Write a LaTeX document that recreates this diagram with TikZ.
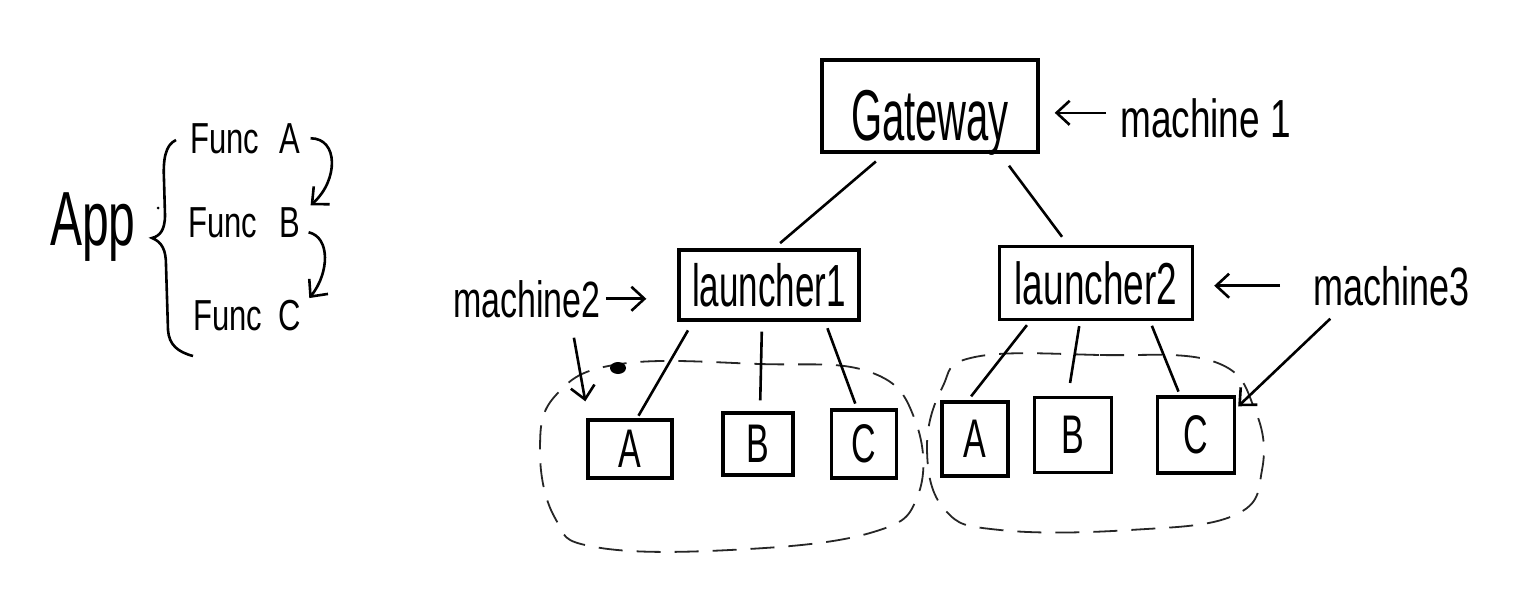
\documentclass[tikz,border=0pt]{standalone}
\usepackage{fontspec}
\setmainfont{Liberation Sans}
\usetikzlibrary{arrows.meta,calc}
\newcommand{\hw}[2]{\scalebox{1}[#1]{#2}}
\begin{document}
\begin{tikzpicture}[x=1pt,y=-1pt,
  box/.style={draw, line width=3.4pt, inner sep=0pt},
  letter/.style={font=\fontsize{34}{38}\selectfont},
  link/.style={line width=2.6pt},
  arr/.style={line width=2.6pt, -{Straight Barb[length=13pt,width=24pt,line width=2.6pt]}},
  blob/.style={line width=1.8pt, dash pattern=on 24pt off 14pt, black!85},
  lbl/.style={inner sep=0pt, anchor=base west},
]
\fill[white] (0,0) rectangle (1538,610);
\useasboundingbox (0,0) rectangle (1538,610);

% dashed machine groups
\draw[blob] plot[smooth cycle, tension=0.7] coordinates {(620,364) (760,364) (870,372) (915,420) (918,495) (870,533) (730,550) (595,547) (555,518) (540,450) (556,395)};
\draw[blob] plot[smooth cycle, tension=0.7] coordinates {(975,357) (1100,355) (1215,362) (1255,410) (1262,470) (1235,515) (1130,530) (1000,530) (945,510) (927,450) (942,388)};
\fill (618,368) ellipse (8pt and 6pt);
\fill (158,208) circle (1.5pt);

% left: App
\node[lbl, font=\fontsize{48}{52}\selectfont] (app) at (50,245) {\hw{1.6}{App}};
\node[lbl, font=\fontsize{31}{34}\selectfont] (fa) at (190,153) {\hw{1.4}{Func\hspace{12pt} A}};
\node[lbl, font=\fontsize{31}{34}\selectfont] (fb) at (188,237) {\hw{1.4}{Func\hspace{14pt} B}};
\node[lbl, font=\fontsize{31}{34}\selectfont] (fc) at (193,330) {\hw{1.4}{Func\hspace{8pt} C}};
\draw[line width=2.6pt] (176,140) .. controls (165,145) and (163,160) .. (164,180) -- (165,215)
  .. controls (165,230) and (160,236) .. (152,238)
  .. controls (162,242) and (166,250) .. (166,265) -- (168,330)
  .. controls (169,345) and (178,352) .. (193,356);
\draw[arr] ([xshift=10pt]fa.east) .. controls +(28,0) and +(28,-25) .. ([xshift=10pt,yshift=17pt]fb.east);
\draw[arr] ([xshift=8pt,yshift=-10pt]fb.east) .. controls +(22,5) and +(20,-25) .. ([xshift=8pt,yshift=17pt]fc.east);

% tree
\node[box, minimum width=216pt, text height=80pt, text depth=12pt, anchor=base,
      font=\fontsize{40}{44}\selectfont] (gw) at (930,140) {\hw{1.8}{Gateway}};
\node[box, minimum width=180pt, minimum height=70pt, font=\fontsize{35}{40}\selectfont] (l1) at (769,285) {\hw{1.7}{launcher1}};
\node[box, minimum width=193pt, minimum height=73pt, font=\fontsize{37}{40}\selectfont] (l2) at (1096,283) {\hw{1.6}{launcher2}};

\node[box, letter, minimum width=84pt, minimum height=58pt] (la) at (630,449) {\hw{1.6}{A}};
\node[box, letter, minimum width=70pt, minimum height=62pt] (lb) at (758,444) {\hw{1.6}{B}};
\node[box, letter, minimum width=65pt, minimum height=68pt] (lc) at (864,444) {\hw{1.6}{C}};
\node[box, letter, minimum width=66pt, minimum height=74pt] (ra) at (975,439) {\hw{1.6}{A}};
\node[box, letter, minimum width=77pt, minimum height=75pt] (rb) at (1073,435) {\hw{1.6}{B}};
\node[box, letter, minimum width=77pt, minimum height=76pt] (rc) at (1196,435) {\hw{1.6}{C}};

\draw[link, shorten <=12pt, shorten >=8pt] ([xshift=-45pt]gw.south) -- ([xshift=5pt]l1.north);
\draw[link, shorten <=15pt, shorten >=10pt] ([xshift=70pt]gw.south) -- ([xshift=-28pt]l2.north);
\draw[link, shorten <=10pt, shorten >=3pt] ([xshift=-76pt]l1.south) -- ([xshift=7pt]la.north);
\draw[link, shorten <=10pt, shorten >=11pt] ([xshift=-7pt]l1.south) -- ([xshift=2pt]lb.north);
\draw[link, shorten <=7pt, shorten >=5pt] ([xshift=56pt]l1.south) -- ([xshift=-7pt]lc.north);
\draw[link, shorten <=5pt, shorten >=5pt] ([xshift=-66pt]l2.south) -- ([xshift=-7pt]ra.north);
\draw[link, shorten <=5pt, shorten >=13pt] ([xshift=-16pt]l2.south) -- ([xshift=-5pt]rb.north);
\draw[link, shorten <=5pt, shorten >=4pt] ([xshift=54pt]l2.south) -- ([xshift=-16pt]rc.north);

% machine labels
\node[lbl, font=\fontsize{37}{40}\selectfont] (m1) at (1120,137) {\hw{1.45}{machine 1}};
\node[lbl, font=\fontsize{34}{38}\selectfont] (m2) at (453,317) {\hw{1.5}{machine2}};
\node[lbl, font=\fontsize{36}{40}\selectfont] (m3) at (1313,305) {\hw{1.5}{machine3}};

\draw[arr] ([xshift=-14pt,yshift=5pt]m1.west) -- ([xshift=15pt,yshift=5pt]m1.west -| gw.east);
\draw[arr] ([xshift=5pt]m2.east) -- ([xshift=-31pt]m2.east -| l1.west);
\draw[arr] ([xshift=-33pt]m3.west) -- ([xshift=20pt]m3.west -| l2.east);
\draw[arr] ([xshift=47pt,yshift=-20pt]m2.south) -- ([xshift=-1pt,yshift=17pt]la.north west);
\draw[arr] ([xshift=-61pt,yshift=-13pt]m3.south) -- ([xshift=2pt,yshift=-11pt]rc.north east);
\end{tikzpicture}
\end{document}
